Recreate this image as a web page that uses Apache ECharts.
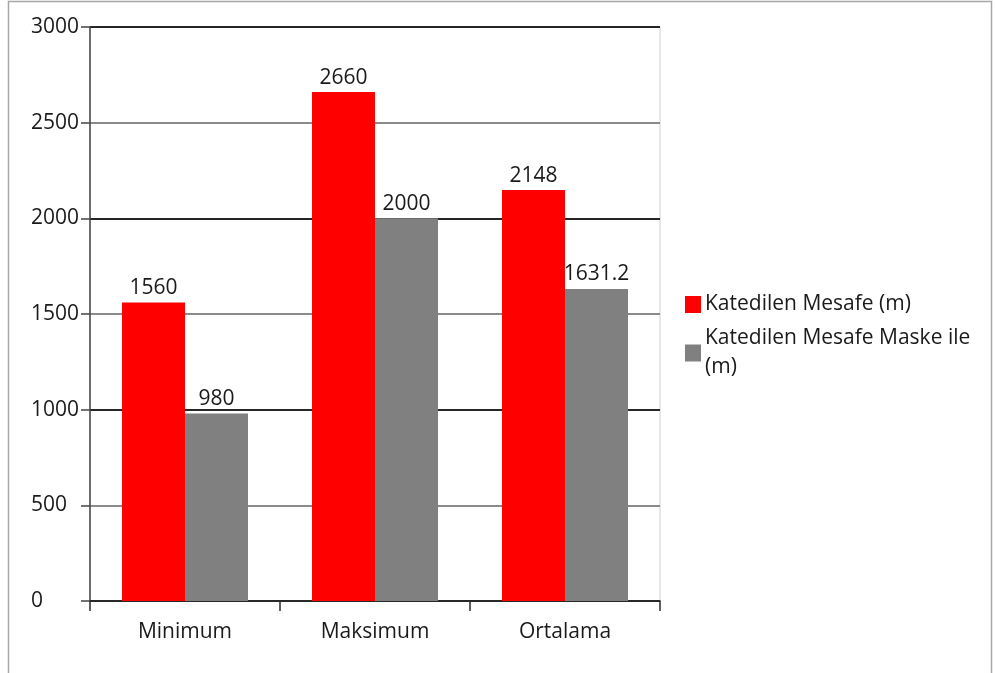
<!DOCTYPE html>
<html>
<head>
<meta charset="utf-8">
<script src="https://cdn.jsdelivr.net/npm/echarts@6/dist/echarts.min.js"></script>
<style>
  html, body { margin: 0; padding: 0; background: #fff; }
  #chart { width: 995px; height: 673px; }
</style>
</head>
<body>
<div id="chart"></div>
<script>
// Mesafe verileri (metre)
const categories = ['Minimum', 'Maksimum', 'Ortalama'];
const seriesNames = ['Katedilen Mesafe (m)', 'Katedilen Mesafe Maske ile (m)'];
const mesafe = [1560, 2660, 2148];
const mesafeMaske = [980, 2000, 1631.2];
const yTicks = [0, 500, 1000, 1500, 2000, 2500, 3000];

const FONT = 'Open Sans';
const SIZE = 21;
const TEXT = '#1a1a1a';

const chart = echarts.init(document.getElementById('chart'), null, { renderer: 'canvas' });

chart.setOption({
  backgroundColor: '#ffffff',
  animation: false,
  textStyle: { fontFamily: FONT },
  graphic: [
    {
      type: 'rect',
      shape: { x: 8.5, y: 1.5, width: 983, height: 700 },
      style: { fill: 'none', stroke: '#a8a8a8', lineWidth: 1.5 },
      silent: true
    }
  ],
  grid: { left: 90, right: 335, top: 27, bottom: 72, show: true, borderColor: '#d0d0d0', borderWidth: 1, backgroundColor: 'transparent' },
  legend: {
    orient: 'vertical',
    left: 685,
    top: 290,
    padding: 0,
    itemWidth: 16,
    itemHeight: 17,
    itemGap: 5,
    icon: 'rect',
    data: seriesNames,
    formatter: function (name) {
      return name === seriesNames[1] ? 'Katedilen Mesafe Maske ile\n(m)' : name;
    },
    textStyle: { fontFamily: FONT, fontSize: SIZE, color: TEXT, lineHeight: 29, padding: [0, 0, 0, -1] }
  },
  xAxis: {
    type: 'category',
    data: categories,
    boundaryGap: true,
    axisLine: { lineStyle: { color: '#2a2a2a', width: 1.5 } },
    axisTick: { show: true, length: 10, lineStyle: { color: '#2a2a2a', width: 1.5 } },
    axisLabel: { fontFamily: FONT, fontSize: SIZE, color: TEXT, margin: 21 },
    splitLine: { show: false }
  },
  yAxis: {
    type: 'value',
    min: yTicks[0],
    max: yTicks[yTicks.length - 1],
    interval: 500,
    axisLine: { show: true, lineStyle: { color: '#444', width: 1.5 } },
    axisTick: { show: true, length: 9, lineStyle: { color: '#444', width: 1.5 } },
    axisLabel: {
      fontFamily: FONT, fontSize: SIZE, color: TEXT, margin: 59, align: 'left',
      formatter: function (v) { return String(v); }
    },
    splitLine: { show: true, lineStyle: { color: ['#262626', '#8a8a8a'], width: 2 } }
  },
  series: [
    {
      name: seriesNames[0],
      type: 'bar',
      data: mesafe,
      barWidth: 63,
      barGap: '0%',
      itemStyle: { color: '#ff0000' },
      label: { show: true, position: 'top', distance: 4, fontFamily: FONT, fontSize: SIZE, color: TEXT }
    },
    {
      name: seriesNames[1],
      type: 'bar',
      data: mesafeMaske,
      barWidth: 63,
      barGap: '0%',
      itemStyle: { color: '#808080' },
      label: { show: true, position: 'top', distance: 4, fontFamily: FONT, fontSize: SIZE, color: TEXT }
    }
  ]
});
</script>
</body>
</html>
